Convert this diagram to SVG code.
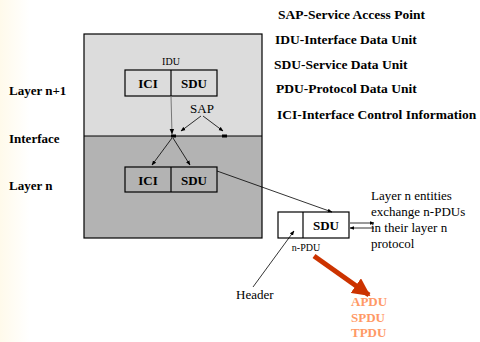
<svg xmlns="http://www.w3.org/2000/svg" width="480" height="342" viewBox="0 0 480 342">
  <defs>
    <linearGradient id="edge" x1="0" y1="0" x2="1" y2="0">
      <stop offset="0" stop-color="#fffaeb"/>
      <stop offset="1" stop-color="#ffffff"/>
    </linearGradient>
    <marker id="ah" viewBox="0 0 10 10" refX="9" refY="5" markerWidth="6" markerHeight="6" orient="auto">
      <path d="M0,1 L10,5 L0,9 z" fill="#000"/>
    </marker>
    <marker id="redhead" viewBox="0 0 10 10" refX="9" refY="5" markerWidth="3.6" markerHeight="3.6" orient="auto" markerUnits="strokeWidth">
      <path d="M0,0 L10,5 L0,10 z" fill="#cc3300"/>
    </marker>
    <style>
      .t { font-family: "Liberation Serif", "Times New Roman", serif; fill: #000; }
      .b { font-weight: bold; font-size: 13px; }
      .lg { font-weight: bold; font-size: 13.5px; }
      .r { font-size: 13px; }
      .s { font-size: 10px; }
      .box { fill: none; stroke: #000; stroke-width: 1.2; }
      .ln { fill: none; stroke: #000; stroke-width: 0.8; }
      .pdu { font-family: "Liberation Serif", "Times New Roman", serif; font-weight: bold; font-size: 13px; fill: #ff9966; }
    </style>
  </defs>

  <!-- page background -->
  <rect x="0" y="0" width="480" height="342" fill="#ffffff"/>
  <rect x="0" y="0" width="30" height="342" fill="url(#edge)"/>

  <!-- legend -->
  <g id="legend" class="t lg">
    <text x="278" y="19">SAP-Service Access Point</text>
    <text x="275" y="44">IDU-Interface Data Unit</text>
    <text x="274" y="69">SDU-Service Data Unit</text>
    <text x="276" y="93">PDU-Protocol Data Unit</text>
    <text x="277" y="119">ICI-Interface Control Information</text>
  </g>

  <!-- layer labels -->
  <g id="layer-labels" class="t b">
    <text x="9" y="95">Layer n+1</text>
    <text x="9" y="143">Interface</text>
    <text x="9" y="190">Layer n</text>
  </g>

  <!-- layer stack -->
  <g id="layer-upper">
    <rect x="84" y="34" width="178" height="102" fill="#dcdcdc"/>
  </g>
  <g id="layer-lower">
    <rect x="84" y="136" width="178" height="102" fill="#b3b3b3"/>
  </g>
  <g id="layer-frame">
    <rect x="84" y="34" width="178" height="204" class="box"/>
    <line x1="84" y1="136" x2="262" y2="136" class="box"/>
  </g>

  <!-- IDU in layer n+1 -->
  <g id="idu">
    <text x="171" y="65" class="t s" text-anchor="middle">IDU</text>
    <rect x="125" y="70" width="92" height="26" class="box"/>
    <line x1="171" y1="70" x2="171" y2="96" class="box"/>
    <text x="148" y="88" class="t b" text-anchor="middle">ICI</text>
    <text x="194" y="88" class="t b" text-anchor="middle">SDU</text>
  </g>

  <!-- service access points -->
  <g id="sap">
    <rect x="171" y="134.5" width="5" height="3" fill="#000"/>
    <rect x="222" y="134.5" width="5" height="3" fill="#000"/>
    <text x="202" y="113" class="t r" text-anchor="middle">SAP</text>
  </g>

  <!-- SDU + ICI in layer n -->
  <g id="layer-n-unit">
    <rect x="125" y="167" width="92" height="25" class="box"/>
    <line x1="171" y1="167" x2="171" y2="192" class="box"/>
    <text x="148" y="185" class="t b" text-anchor="middle">ICI</text>
    <text x="194" y="185" class="t b" text-anchor="middle">SDU</text>
  </g>

  <!-- n-PDU -->
  <g id="n-pdu">
    <rect x="278" y="212" width="71" height="26" class="box"/>
    <line x1="303" y1="212" x2="303" y2="238" class="box"/>
    <text x="326" y="230" class="t b" text-anchor="middle">SDU</text>
    <text x="306" y="251" class="t s" text-anchor="middle">n-PDU</text>
  </g>

  <g id="note" class="t r">
    <text x="371" y="200">Layer n entities</text>
    <text x="371" y="216">exchange n-PDUs</text>
    <text x="371" y="232">in their layer n</text>
    <text x="371" y="248">protocol</text>
  </g>

  <g id="header-label">
    <text x="236" y="299" class="t r">Header</text>
  </g>

  <g id="pdu-types" class="pdu">
    <text x="351" y="306">APDU</text>
    <text x="351" y="322">SPDU</text>
    <text x="351" y="337">TPDU</text>
  </g>

  <!-- connectors -->
  <g id="connectors">
    <line x1="171" y1="96" x2="172" y2="134" stroke="#777" stroke-width="1" marker-end="url(#ah)"/>
    <line x1="201" y1="116" x2="181" y2="131" class="ln" marker-end="url(#ah)"/>
    <line x1="203" y1="116" x2="223" y2="131" class="ln" marker-end="url(#ah)"/>
    <line x1="172" y1="138" x2="152" y2="165" class="ln" marker-end="url(#ah)"/>
    <line x1="173" y1="138" x2="190" y2="165" class="ln" marker-end="url(#ah)"/>
    <line x1="217" y1="171" x2="332" y2="212" class="ln" marker-end="url(#ah)"/>
    <line x1="350" y1="223" x2="374" y2="223" class="ln" marker-end="url(#ah)"/>
    <line x1="374" y1="228" x2="350" y2="228" class="ln" marker-end="url(#ah)"/>
    <line x1="253" y1="287" x2="294" y2="231" class="ln" marker-end="url(#ah)"/>
    <line x1="314" y1="256" x2="369" y2="295" stroke="#cc3300" stroke-width="5" marker-end="url(#redhead)"/>
  </g>
</svg>
